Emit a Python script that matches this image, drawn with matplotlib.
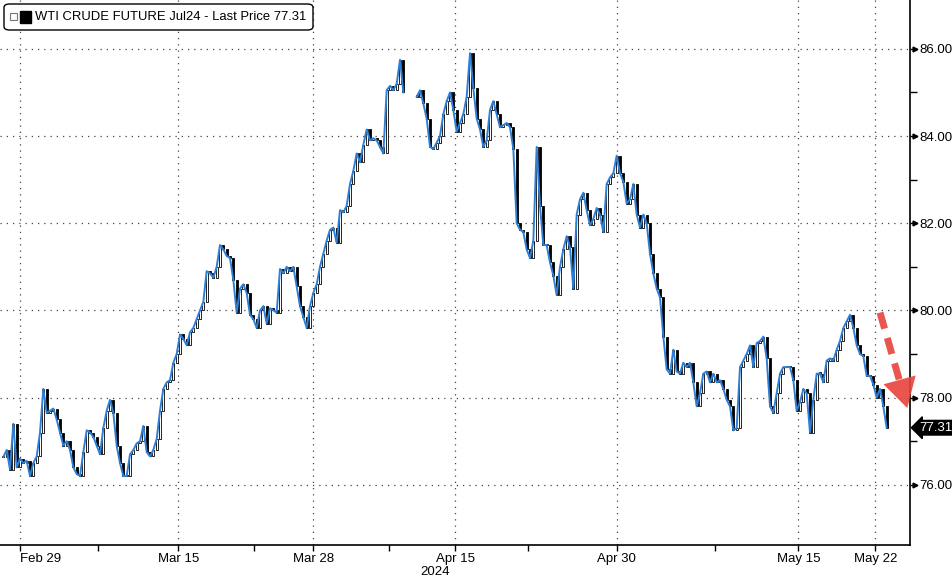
import numpy as np
import matplotlib.pyplot as plt
from matplotlib.patches import FancyBboxPatch, Rectangle
import matplotlib.transforms as mtransforms

# WTI Jul24 future, close of each bar, NaN = market closed
close = [
    76.64, 76.8, 76.35, 77.4, 76.4, 76.6, 76.5, 76.55, 76.2, 76.5, 76.65, 77.2,
    78.2, 77.65, 77.7, 77.75, 77.5, 77.2, 76.9, 77.0, 76.8, 76.4, 76.25, 76.2,
    76.75, 77.25, 77.2, 77.1, 76.9, 76.7, 77.3, 77.7, 77.95, 77.65, 76.9, 76.5,
    76.2, 76.2, 76.7, 76.8, 76.95, 77.0, 77.35, 76.75, 76.65, 76.8, 77.05, 77.7,
    78.2, 78.35, 78.4, 78.8, 79.0, 79.45, 79.35, 79.2, 79.5, 79.6, 79.8, 80.0,
    80.2, 80.9, 80.85, 80.75, 81.0, 81.5, 81.4, 81.25, 81.2, 80.7, 79.95, 80.5,
    80.6, 80.4, 79.9, 79.8, 79.6, 80.0, 80.1, 79.7, 80.05, 80.0, 79.95, 80.95,
    80.85, 81.0, 80.9, 81.0, 80.55, 80.1, 79.85, 79.6, 80.1, 80.4, 80.6, 81.0,
    81.3, 81.6, 81.85, 81.9, 81.55, 82.3, 82.25, 82.4, 82.9, 83.2, 83.6, 83.4,
    83.8, 84.15, 83.9, 83.95, 83.9, 83.75, 83.6, 85.05, 85.15, 85.05, 85.2, 85.75,
    85.0, np.nan, np.nan, np.nan, 84.9, 85.05, 84.75, 84.4, 83.75, 83.7, 83.85, 84.0,
    84.5, 84.8, 85.0, 84.6, 84.1, 84.3, 84.5, 84.9, 85.9, 85.1, 84.4, 84.15,
    83.75, 83.9, 84.6, 84.8, 84.5, 84.2, 84.25, 84.3, 84.2, 83.7, 82.0, 81.85,
    81.8, 81.4, 81.2, 81.6, 83.75, 82.4, 81.5, 81.5, 81.1, 80.8, 80.35, 81.0,
    81.4, 81.7, 81.45, 80.5, 82.2, 82.55, 82.7, 82.3, 81.95, 82.1, 82.35, 82.2,
    81.8, 82.9, 83.05, 83.15, 83.55, 83.15, 82.95, 82.45, 82.55, 82.9, 82.2, 81.9,
    82.2, 82.0, 81.3, 80.85, 80.5, 80.3, 79.4, 78.65, 78.55, 79.1, 78.6, 78.55,
    78.8, 78.7, 78.8, 78.35, 77.8, 78.1, 78.55, 78.6, 78.35, 78.55, 78.35, 78.4,
    78.2, 77.95, 77.8, 77.25, 77.3, 78.7, 78.85, 79.0, 79.2, 78.7, 79.25, 79.3,
    79.4, 78.9, 77.8, 77.65, 78.1, 78.55, 78.7, 78.7, 78.7, 78.4, 77.7, 77.9,
    78.2, 78.1, 77.2, 77.95, 78.55, 78.55, 78.35, 78.85, 78.9, 78.85, 79.1, 79.3,
    79.6, 79.75, 79.9, 79.6, 79.2, 79.0, 78.95, 78.5, 78.5, 78.3, 78.0, 78.2,
    77.8, 77.31,
]
last_price = 77.31

# date labels and the bar where each falls
date_labels = ["Feb 29", "Mar 15", "Mar 28", "Apr 15", "Apr 30", "May 15", "May 22"]
date_pos = [5.1, 52.5, 93, 135.6, 184, 238.5, 261.6]
week_pos = [28.5, 75.3, 115.8, 157.5, 213.6]
price_ticks = [76, 78, 80, 82, 84, 86]

blue = "#2f7fd6"
red = "#e8443c"
plt.rcParams["font.family"] = ["Liberation Sans", "DejaVu Sans"]
fs = 9.5

close = np.array(close)
idx = np.arange(len(close))
opens = np.roll(close, 1)
opens[0] = close[0]
opens[np.isnan(opens)] = close[np.isnan(opens)]

fig = plt.figure(figsize=(9.53, 5.8), dpi=100)
ax = fig.add_axes([0, 35 / 580, 910 / 953, 545 / 580])

# candle bodies
ok = ~np.isnan(close)
up = ok & (close >= opens)
dn = ok & (close < opens)
for m, fc in [(up, "white"), (dn, "black")]:
    lo = np.minimum(opens[m], close[m])
    h = np.maximum(np.abs(close[m] - opens[m]), 0.03)
    ax.bar(idx[m], h, bottom=lo, width=0.55, facecolor=fc, edgecolor="black",
           linewidth=0.6, zorder=2)
ax.plot(idx, close, color=blue, lw=1.4, zorder=3)

ax.set_xlim(-1, 272)
ax.set_ylim(74.62, 87.12)

# axes styling
for s in ["top", "left"]:
    ax.spines[s].set_visible(False)
ax.spines["right"].set_linewidth(1.2)
ax.spines["bottom"].set_linewidth(1.2)
ax.yaxis.tick_right()
ax.set_yticks(price_ticks)
ax.set_yticklabels([f"{v:.2f}" for v in price_ticks])
ax.set_yticks([77, 79, 81, 83, 85], minor=True)
ax.tick_params(axis="y", which="major", length=5, width=1, labelsize=fs, pad=2)
ax.tick_params(axis="y", which="minor", length=5, width=1)
ax.set_xticks(date_pos)
ax.set_xticklabels(date_labels)
ax.get_xticklabels()[0].set_horizontalalignment("left")
ax.set_xticks(week_pos, minor=True)
ax.tick_params(axis="x", which="major", length=4, width=1, labelsize=fs, pad=1.5)
ax.tick_params(axis="x", which="minor", length=4, width=1)
ax.grid(True, which="major", color="#444444", linestyle=(0, (1, 4)), lw=0.9)

# small pointers on the price ticks
trans = mtransforms.blended_transform_factory(ax.transAxes, ax.transData)
ax.plot([1.006] * len(price_ticks), price_ticks, linestyle="none", marker=">",
        ms=3.5, color="black", transform=trans, clip_on=False)

# last price tag
ax.annotate(f"{last_price:.2f}", xy=(1.0, last_price), xycoords=trans,
            xytext=(6.5, 0), textcoords="offset points", va="center", ha="left",
            color="white", fontsize=fs,
            bbox=dict(boxstyle="larrow,pad=0.1", fc="black", ec="black"))

# red dashed arrow
ax.plot([263, 269.0], [79.95, 78.35], color=red, lw=5, linestyle=(0, (2.4, 1.4)),
        alpha=0.9, solid_capstyle="butt", zorder=5)
ax.annotate("", xy=(271.4, 77.7), xytext=(268.9, 78.4),
            arrowprops=dict(arrowstyle="-|>,head_length=1.4,head_width=0.8",
                            color=red, lw=0, alpha=0.9, mutation_scale=15),
            zorder=5)

# year label
fig.text(435 / 953, 1 - 572 / 580, "2024", ha="center", va="center", fontsize=fs)

# legend box top-left
fig.patches.append(FancyBboxPatch((4 / 953, 1 - 30 / 580), 309 / 953, 26 / 580,
                                  boxstyle="round,pad=0,rounding_size=0.006",
                                  transform=fig.transFigure, fc="white",
                                  ec="black", lw=1.0, zorder=10))
fig.patches.append(Rectangle((10 / 953, 1 - 20 / 580), 7 / 953, 7 / 580,
                             transform=fig.transFigure, fc="white", ec="#777777",
                             lw=0.8, zorder=11))
fig.patches.append(Rectangle((20 / 953, 1 - 23 / 580), 11 / 953, 12 / 580,
                             transform=fig.transFigure, fc="black", ec="black",
                             zorder=11))
fig.text(35 / 953, 1 - 17 / 580, "WTI CRUDE FUTURE Jul24 - Last Price 77.31",
         ha="left", va="center", fontsize=9.35, zorder=12)

fig.savefig("out.png", dpi=100)
